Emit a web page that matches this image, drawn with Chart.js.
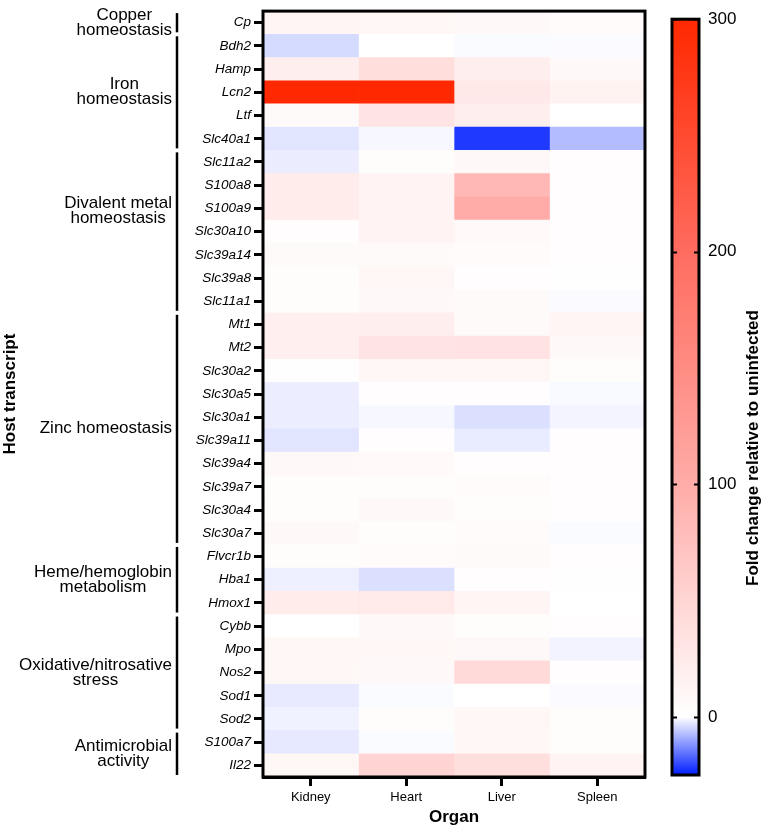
<!DOCTYPE html>
<html>
<head>
<meta charset="utf-8">
<script src="https://cdn.jsdelivr.net/npm/chart.js@4.4.0/dist/chart.umd.min.js"></script>
<style>
  html, body { margin: 0; padding: 0; background: #fff; }
  #wrap { position: relative; width: 763px; height: 828px; }
  #heat { position: absolute; left: 0; top: 0; width: 660px; height: 828px; }
  #scale { position: absolute; left: 660px; top: 0; width: 103px; height: 828px; }
</style>
</head>
<body>
<div id="wrap">
  <canvas id="heat" width="660" height="828"></canvas>
  <canvas id="scale" width="103" height="828"></canvas>
</div>
<script>
const organs = ['Kidney', 'Heart', 'Liver', 'Spleen'];

const genes = ['Cp', 'Bdh2', 'Hamp', 'Lcn2', 'Ltf', 'Slc40a1', 'Slc11a2', 'S100a8', 'S100a9',
               'Slc30a10', 'Slc39a14', 'Slc39a8', 'Slc11a1', 'Mt1', 'Mt2', 'Slc30a2', 'Slc30a5',
               'Slc30a1', 'Slc39a11', 'Slc39a4', 'Slc39a7', 'Slc30a4', 'Slc30a7', 'Flvcr1b', 'Hba1',
               'Hmox1', 'Cybb', 'Mpo', 'Nos2', 'Sod1', 'Sod2', 'S100a7', 'Il22'];

// fold change per organ, same order as genes
const kidney = [12, -4.1, 20, 300, 6, -2.9, -2, 23, 23, 2, 6, 4, 4, 18, 18, 1, -1.9,
                -1.9, -2.9, 8, 3, 3, 8, 3, -1.7, 23, 0, 10, 10, -2.3, -1.5, -2.5, 10];
const heart  = [10, 0, 40, 300, 32, -0.8, 3, 14, 14, 14, 6, 10, 8, 20, 32, 10, 2,
                -0.8, 2, 7, 3, 8, 4, 5, -3.5, 25, 8, 9, 8, -0.5, 3, -0.5, 52];
const liver  = [8, -0.5, 20, 27, 20, -22, 8, 85, 102, 7, 5, 2, 6, 6, 35, 10, 2,
                -3.5, -2.2, 2, 5, 3, 5, 6, 2, 12, 3, 8, 44, 0, 10, 9, 38];
const spleen = [5, -0.4, 8, 15, 0, -7.5, 2, 2, 2, 2, 2, 1, -0.4, 12, 8, 3, -0.6,
                -1.2, 2, 2, 2, 2, -0.5, 2, 1, 0, 2, -1.3, 2, -0.4, 3, 3, 14];

const groups = [
  { label: ['Copper', 'homeostasis'], first: 'Cp', last: 'Cp' },
  { label: ['Iron', 'homeostasis'], first: 'Bdh2', last: 'Slc40a1' },
  { label: ['Divalent metal', 'homeostasis'], first: 'Slc11a2', last: 'Slc11a1' },
  { label: ['Zinc homeostasis'], first: 'Mt1', last: 'Slc30a7' },
  { label: ['Heme/hemoglobin', 'metabolism'], first: 'Flvcr1b', last: 'Hmox1' },
  { label: ['Oxidative/nitrosative', 'stress'], first: 'Cybb', last: 'Sod2' },
  { label: ['Antimicrobial', 'activity'], first: 'S100a7', last: 'Il22' }
];

const colorMin = -25;
const colorMax = 300;
const colorTicks = [0, 100, 200, 300];

const FONT = "'Liberation Sans', Arial, Helvetica, sans-serif";

// colour ramp stops: [fraction, r, g, b]
const posStops = [[0, 255, 255, 255], [1 / 3, 255, 172, 168], [2 / 3, 255, 108, 95], [1, 255, 40, 0]];
const negStops = [[0, 255, 255, 255], [1, 0, 30, 255]];

const ramp = (stops, t) => {
    t = Math.max(0, Math.min(1, t));
    let i = 1;
    while (i < stops.length - 1 && t > stops[i][0]) i++;
    const a = stops[i - 1], b = stops[i];
    const f = (t - a[0]) / (b[0] - a[0]);
    const ch = (k) => Math.round(a[k] + (b[k] - a[k]) * f);
    return `rgb(${ch(1)}, ${ch(2)}, ${ch(3)})`;
};

const cellColor = (v) => v >= 0 ? ramp(posStops, v / colorMax) : ramp(negStops, v / colorMin);

const columns = [kidney, heart, liver, spleen];

// label nudges (px) to follow the original layout
const groupShift = { 'Divalent metal': -21 };

const frame = {
    id: 'frame',
    afterDatasetsDraw(chart) {
        const { ctx, chartArea: a } = chart;
        ctx.save();
        ctx.strokeStyle = '#000';
        ctx.lineWidth = 3;
        ctx.strokeRect(a.left, a.top, a.right - a.left, a.bottom - a.top);
        ctx.restore();
    }
};

const groupLabels = {
    id: 'groupLabels',
    afterDraw(chart) {
        const { ctx } = chart;
        const y = chart.scales.y;
        const rowH = y.getPixelForValue(1) - y.getPixelForValue(0);
        ctx.save();
        ctx.fillStyle = '#000';
        ctx.strokeStyle = '#000';
        ctx.font = '17px ' + FONT;
        ctx.textAlign = 'center';
        ctx.textBaseline = 'alphabetic';
        groups.forEach(g => {
            const y1 = y.getPixelForValue(genes.indexOf(g.first)) - rowH / 2;
            const y2 = y.getPixelForValue(genes.indexOf(g.last)) + rowH / 2;
            ctx.lineWidth = 2.5;
            ctx.beginPath();
            ctx.moveTo(177, y1 + 2);
            ctx.lineTo(177, y2 - 2);
            ctx.stroke();

            const maxW = Math.max(...g.label.map(s => ctx.measureText(s).width));
            const cx = 172 - maxW / 2;
            const lh = 15;
            const mid = (y1 + y2) / 2 + (groupShift[g.label[0]] || 0);
            const firstBase = mid + 4.5 - (g.label.length - 1) * lh / 2;
            g.label.forEach((s, i) => ctx.fillText(s, cx, firstBase + i * lh));
        });
        ctx.restore();
    }
};

new Chart(document.getElementById('heat'), {
    type: 'bar',
    data: {
        labels: genes,
        datasets: columns.map((vals, c) => ({
            label: organs[c],
            data: genes.map(() => [c, c + 1]),
            backgroundColor: vals.map(cellColor),
            borderWidth: 0,
            grouped: false,
            barPercentage: 1,
            categoryPercentage: 1
        }))
    },
    options: {
        responsive: false,
        animation: false,
        indexAxis: 'y',
        layout: { padding: { top: 5, right: 15, left: 0, bottom: 0 } },
        plugins: {
            legend: { display: false },
            tooltip: { enabled: false }
        },
        scales: {
            y: {
                type: 'category',
                ticks: {
                    color: '#000',
                    font: { family: FONT, size: 13.5, style: 'italic' },
                    padding: 3,
                    autoSkip: false
                },
                grid: {
                    drawOnChartArea: false,
                    drawTicks: true,
                    tickLength: 9,
                    tickWidth: 3,
                    tickColor: '#000',
                    offset: false
                },
                border: { display: true, width: 3, color: '#000' },
                title: {
                    display: true,
                    text: 'Host transcript',
                    color: '#000',
                    font: { family: FONT, size: 17, weight: 'bold' },
                    padding: 0
                },
                afterFit: (scale) => { scale.width = 263; }
            },
            x: {
                type: 'linear',
                min: 0,
                max: 4,
                afterBuildTicks: (scale) => {
                    scale.ticks = organs.map((o, i) => ({ value: i + 0.5 }));
                },
                ticks: {
                    color: '#000',
                    font: { family: FONT, size: 13 },
                    padding: 4,
                    callback: (v) => organs[Math.floor(v)]
                },
                grid: {
                    drawOnChartArea: false,
                    drawTicks: true,
                    tickLength: 9,
                    tickWidth: 3,
                    tickColor: '#000'
                },
                border: { display: true, width: 3, color: '#000' },
                title: {
                    display: true,
                    text: 'Organ',
                    color: '#000',
                    font: { family: FONT, size: 17, weight: 'bold' },
                    padding: 0
                },
                afterFit: (scale) => { scale.height = 51; }
            }
        }
    },
    plugins: [frame, groupLabels]
});

const scaleDecor = {
    id: 'scaleDecor',
    afterDatasetsDraw(chart) {
        const { ctx, chartArea: a } = chart;
        const y = chart.scales.y;
        ctx.save();
        ctx.strokeStyle = '#000';
        ctx.lineWidth = 3;
        ctx.strokeRect(a.left, a.top, a.right - a.left, a.bottom - a.top);
        ctx.lineWidth = 2;
        colorTicks.forEach(t => {
            const py = Math.round(y.getPixelForValue(t)) + 0.5;
            ctx.beginPath();
            ctx.moveTo(a.left, py); ctx.lineTo(a.left + 5, py);
            ctx.moveTo(a.right - 5, py); ctx.lineTo(a.right, py);
            ctx.stroke();
        });
        ctx.translate(93, 448);
        ctx.rotate(-Math.PI / 2);
        ctx.fillStyle = '#000';
        ctx.font = 'bold 17px ' + FONT;
        ctx.textAlign = 'center';
        ctx.textBaseline = 'middle';
        ctx.fillText('Fold change relative to uninfected', 0, 0);
        ctx.restore();
    }
};

new Chart(document.getElementById('scale'), {
    type: 'bar',
    data: {
        labels: ['scale'],
        datasets: [{
            data: [[colorMin, colorMax]],
            borderWidth: 0,
            barPercentage: 1,
            categoryPercentage: 1,
            backgroundColor: (ctx) => {
                const chart = ctx.chart;
                if (!chart.chartArea) return 'rgba(0,0,0,0)';
                const y = chart.scales.y;
                const g = chart.ctx.createLinearGradient(0, y.getPixelForValue(colorMin), 0, y.getPixelForValue(colorMax));
                const zero = -colorMin / (colorMax - colorMin);
                g.addColorStop(0, cellColor(colorMin));
                g.addColorStop(zero, cellColor(0));
                posStops.slice(1).forEach(s => {
                    g.addColorStop(zero + (1 - zero) * s[0], cellColor(s[0] * colorMax));
                });
                return g;
            }
        }]
    },
    options: {
        responsive: false,
        animation: false,
        layout: { padding: { top: 5, left: 12, right: 0, bottom: 53 } },
        plugins: {
            legend: { display: false },
            tooltip: { enabled: false }
        },
        scales: {
            x: { display: false },
            y: {
                position: 'right',
                min: colorMin,
                max: colorMax,
                afterBuildTicks: (scale) => {
                    scale.ticks = colorTicks.map(v => ({ value: v }));
                },
                ticks: {
                    color: '#000',
                    font: { family: FONT, size: 17 },
                    padding: 9
                },
                grid: { drawOnChartArea: false, drawTicks: false },
                border: { display: false },
                afterFit: (scale) => { scale.width = 64; }
            }
        }
    },
    plugins: [scaleDecor]
});
</script>
</body>
</html>
